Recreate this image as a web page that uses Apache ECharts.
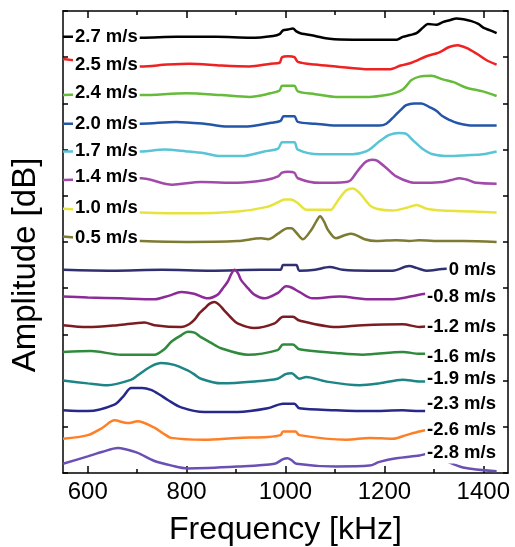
<!DOCTYPE html>
<html>
<head>
<meta charset="utf-8">
<script src="https://cdn.jsdelivr.net/npm/echarts@6/dist/echarts.min.js"></script>
<style>
  html, body { margin: 0; padding: 0; background: #fff; }
  #chart { width: 515px; height: 547px; }
</style>
</head>
<body>
<div id="chart"></div>
<script>
// tick labels (kHz)
const freqTicks = [600, 800, 1000, 1200, 1400];
const freqMinorTicks = [700, 900, 1100, 1300];

// flow speeds, top trace first
const speedLabels = ['2.7 m/s', '2.5 m/s', '2.4 m/s', '2.0 m/s', '1.7 m/s', '1.4 m/s', '1.0 m/s', '0.5 m/s',
  '0 m/s', '-0.8 m/s', '-1.2 m/s', '-1.6 m/s', '-1.9 m/s', '-2.3 m/s', '-2.6 m/s', '-2.8 m/s'];

// amplitude (dB, offset traces) vs frequency (kHz)
const amp_p27 = [[550,47.2],[600,47.2],[650,47.1],[708,47.1],[780,47.2],[860,47.2],[930,47.1],[975,47.3],[988,47.5],[995,47.9],[1005,48.0],[1015,48.1],[1022,47.8],[1030,47.6],[1060,47.3],[1089,47.0],[1136,46.9],[1225,46.9],[1237,47.2],[1252,47.4],[1265,47.6],[1278,48.2],[1288,48.6],[1305,48.5],[1318,48.8],[1332,49.0],[1346,49.2],[1360,49.1],[1376,48.9],[1390,48.6],[1400,48.2],[1414,47.9],[1427,47.6]];
const amp_p25 = [[550,44.8],[600,44.5],[650,44.2],[708,44.0],[760,44.2],[806,44.3],[870,44.1],[927,44.0],[970,44.3],[988,44.4],[993,45.0],[1005,45.1],[1018,45.0],[1025,44.5],[1060,44.2],[1102,44.0],[1170,43.7],[1210,43.7],[1233,44.1],[1255,44.4],[1285,45.1],[1310,45.5],[1331,46.1],[1348,46.3],[1366,46.0],[1386,45.4],[1406,44.7],[1427,44.2]];
const amp_p24 = [[550,40.9],[600,41.0],[650,41.0],[708,40.9],[800,41.1],[870,40.9],[927,40.7],[970,41.1],[988,41.4],[993,41.9],[1005,41.9],[1018,41.9],[1025,41.3],[1060,41.0],[1102,40.7],[1169,40.7],[1204,40.9],[1225,41.2],[1237,41.5],[1246,42.0],[1254,42.5],[1271,42.9],[1295,43.0],[1318,42.6],[1340,42.3],[1366,41.7],[1399,41.3],[1427,40.8]];
const amp_p20 = [[550,37.8],[620,37.8],[708,37.8],[779,38.0],[836,37.8],[883,37.5],[923,37.5],[971,37.9],[990,38.1],[996,38.6],[1008,38.6],[1018,38.6],[1025,38.0],[1060,37.8],[1102,37.6],[1190,37.6],[1204,37.8],[1220,38.6],[1233,39.3],[1244,39.8],[1260,40.0],[1275,40.0],[1291,39.6],[1305,39.2],[1318,38.6],[1332,38.2],[1346,37.9],[1379,37.6],[1427,37.6]];
const amp_p17 = [[550,34.8],[620,34.8],[708,34.8],[755,35.0],[800,34.8],[836,34.6],[868,34.3],[911,34.3],[957,34.8],[985,35.1],[993,35.8],[1005,35.8],[1018,35.8],[1025,35.0],[1069,34.5],[1136,34.5],[1163,34.8],[1177,35.3],[1190,35.9],[1210,36.6],[1230,36.8],[1244,36.7],[1258,36.0],[1277,35.1],[1298,34.5],[1332,34.3],[1366,34.4],[1399,34.5],[1427,34.8]];
const amp_p14 = [[550,31.7],[620,31.8],[708,31.9],[771,31.2],[829,31.5],[903,31.4],[960,31.7],[985,32.1],[993,32.5],[1005,32.6],[1018,32.5],[1025,31.9],[1069,31.4],[1123,31.5],[1132,31.7],[1142,32.4],[1152,33.1],[1163,33.7],[1175,33.9],[1185,33.8],[1204,33.0],[1224,32.1],[1251,31.5],[1271,31.4],[1318,31.5],[1335,31.7],[1352,31.9],[1370,31.7],[1386,31.4],[1427,31.3]];
const amp_p10 = [[550,28.6],[620,28.4],[708,28.2],[802,28.1],[903,28.3],[963,28.8],[985,29.3],[998,29.6],[1011,29.6],[1025,29.2],[1042,28.5],[1092,28.5],[1100,29.0],[1109,29.7],[1123,30.6],[1136,30.8],[1150,30.3],[1170,29.0],[1184,28.6],[1217,28.4],[1245,28.7],[1265,29.0],[1285,28.6],[1318,28.4],[1380,28.3],[1427,28.2]];
const amp_p05 = [[550,25.6],[620,25.3],[708,25.1],[802,25.0],[903,25.1],[951,25.4],[965,25.3],[985,25.9],[1004,26.5],[1012,26.5],[1022,26.0],[1035,25.3],[1052,26.3],[1062,27.2],[1070,27.8],[1078,27.2],[1086,26.3],[1102,25.4],[1118,25.7],[1133,25.9],[1160,25.3],[1184,25.1],[1224,25.2],[1250,25.1],[1270,25.2],[1300,25.1],[1360,25.1],[1427,25.0]];
const amp_0 = [[550,22.0],[650,21.9],[750,22.0],[850,21.9],[950,22.0],[990,22.0],[995,22.5],[1008,22.5],[1022,22.5],[1028,21.9],[1060,22.0],[1089,22.3],[1116,22.0],[1170,21.9],[1217,21.9],[1250,22.4],[1265,22.2],[1285,21.9],[1325,22.1],[1427,22.1]];
const amp_m08 = [[550,19.1],[600,19.0],[667,18.9],[735,18.8],[765,19.2],[789,19.6],[815,19.4],[843,18.9],[863,19.3],[872,19.9],[883,20.7],[890,21.5],[897,22.0],[904,21.6],[910,20.9],[924,20.0],[937,19.3],[958,18.9],[985,19.5],[1001,20.2],[1011,20.1],[1028,19.6],[1055,18.9],[1109,19.1],[1170,18.8],[1217,18.8],[1271,19.3],[1300,19.5],[1427,19.6]];
const amp_m12 = [[550,16.0],[600,15.8],[660,16.0],[715,16.3],[735,16.0],[789,15.8],[805,16.1],[816,16.6],[826,17.3],[836,17.8],[846,18.3],[856,18.5],[866,18.2],[876,17.6],[890,16.8],[903,16.2],[937,15.7],[978,16.2],[995,16.9],[1015,16.9],[1028,16.5],[1102,15.8],[1156,16.0],[1237,16.1],[1271,15.8],[1300,15.9],[1427,15.9]];
const amp_m16 = [[550,13.1],[607,13.2],[667,12.8],[735,12.8],[755,13.4],[769,14.2],[789,14.9],[802,15.3],[816,15.2],[829,14.7],[849,14.1],[870,13.5],[924,12.8],[984,13.3],[995,13.9],[1015,13.9],[1028,13.4],[1102,13.0],[1156,12.8],[1237,13.1],[1271,12.9],[1300,12.9],[1427,12.9]];
const amp_m19 = [[550,10.0],[600,9.7],[640,9.5],[688,10.1],[702,10.6],[715,11.1],[730,11.6],[748,11.9],[775,11.7],[802,11.1],[815,10.7],[829,10.2],[870,9.7],[937,9.9],[984,10.2],[1000,10.7],[1012,10.8],[1028,10.2],[1042,10.4],[1082,9.9],[1150,9.5],[1190,9.7],[1237,10.1],[1271,9.9],[1330,10.0],[1427,10.2]];
const amp_m23 = [[550,6.8],[600,6.7],[654,7.4],[672,8.3],[688,9.2],[710,9.2],[728,9.0],[745,8.5],[762,7.9],[789,7.1],[836,6.6],[903,6.6],[964,7.0],[995,7.5],[1018,7.5],[1028,7.0],[1102,6.8],[1170,6.7],[1237,6.8],[1271,6.7],[1330,6.9],[1400,7.3],[1427,7.6]];
const amp_m26 = [[550,3.7],[600,4.1],[630,4.9],[654,5.7],[681,5.4],[701,5.6],[735,4.9],[752,4.3],[769,3.8],[836,3.6],[903,3.8],[964,3.9],[990,4.1],[995,4.5],[1020,4.5],[1028,4.1],[1123,3.6],[1170,3.8],[1217,3.7],[1244,4.1],[1271,4.5],[1300,4.7],[1380,4.5],[1427,4.2]];
const amp_m28 = [[550,1.0],[600,1.8],[630,2.3],[661,2.7],[674,2.6],[700,2.2],[735,1.3],[770,0.8],[802,0.5],[903,0.7],[978,1.0],[995,1.5],[1004,1.6],[1012,1.4],[1022,1.0],[1102,0.7],[1170,0.8],[1190,1.2],[1224,1.6],[1271,1.9],[1290,2.1],[1320,1.4],[1359,0.6],[1427,0.2]];

const traces = [amp_p27, amp_p25, amp_p24, amp_p20, amp_p17, amp_p14, amp_p10, amp_p05,
  amp_0, amp_m08, amp_m12, amp_m16, amp_m19, amp_m23, amp_m26, amp_m28];

const colors = ['#000000', '#ee2222', '#66bb3a', '#2456a8', '#58c4d6', '#a24aaa', '#e6e43c', '#7d7a32',
  '#2f2f72', '#8c2a98', '#7b1c22', '#2f8a3c', '#1d8585', '#26288a', '#ff7f27', '#6a4fb5'];

// label placement (px): upper ones left-aligned, lower ones right-aligned
const labelY = [37, 65, 93, 124, 151, 177, 208, 238, 270, 297, 327, 357, 379, 404, 430, 453];

const FONT = '"Liberation Sans", Arial, sans-serif';

let chart = echarts.init(document.getElementById('chart'));

let series = traces.map((d, i) => ({
  name: speedLabels[i],
  type: 'line',
  data: d,
  showSymbol: false,
  smooth: 0.3,
  lineStyle: { color: colors[i], width: 2.5 },
  itemStyle: { color: colors[i] },
  z: 2
}));

let labels = speedLabels.map((t, i) => {
  let left = i < 8;
  return {
    type: 'text',
    x: left ? 73 : 498,
    y: labelY[i],
    z: 100,
    style: {
      text: t,
      font: 'bold 18.5px ' + FONT,
      fill: '#000',
      textAlign: left ? 'left' : 'right',
      textVerticalAlign: 'middle',
      backgroundColor: '#fff',
      padding: [1, 2, 1, 2]
    }
  };
});

labels.push({
  type: 'text',
  x: 26,
  y: 265,
  rotation: Math.PI / 2,
  z: 100,
  style: {
    text: 'Amplitude [dB]',
    font: '33px ' + FONT,
    fill: '#000',
    textAlign: 'center',
    textVerticalAlign: 'middle'
  }
});

const axisBase = {
  type: 'value',
  min: 550,
  max: 1450,
  splitLine: { show: false },
  axisLine: { show: true, lineStyle: { color: '#000', width: 1.5 } }
};

let option = {
  animation: false,
  backgroundColor: '#fff',
  grid: { left: 63, right: 7, top: 11, bottom: 74, outerBoundsMode: 'none', containLabel: false },
  xAxis: [
    Object.assign({}, axisBase, {
      position: 'bottom',
      name: 'Frequency [kHz]',
      nameLocation: 'middle',
      nameGap: 41,
      nameTextStyle: { fontSize: 32, fontFamily: FONT, color: '#000' },
      axisTick: { inside: true, length: 7, customValues: freqTicks, lineStyle: { color: '#000', width: 1.5 } },
      axisLabel: { customValues: freqTicks, fontSize: 24, fontFamily: FONT, color: '#000', margin: 7,
        formatter: v => String(v) }
    }),
    Object.assign({}, axisBase, {
      position: 'bottom',
      axisLine: { show: false },
      axisTick: { inside: true, length: 4, customValues: freqMinorTicks, lineStyle: { color: '#000', width: 1.5 } },
      axisLabel: { show: false }
    }),
    Object.assign({}, axisBase, {
      position: 'top',
      axisTick: { inside: true, length: 7, customValues: freqTicks, lineStyle: { color: '#000', width: 1.5 } },
      axisLabel: { show: false }
    }),
    Object.assign({}, axisBase, {
      position: 'top',
      axisLine: { show: false },
      axisTick: { inside: true, length: 4, customValues: freqMinorTicks, lineStyle: { color: '#000', width: 1.5 } },
      axisLabel: { show: false }
    })
  ],
  yAxis: [
    {
      type: 'value', position: 'left', min: 0, max: 50, interval: 5,
      splitLine: { show: false },
      axisLine: { show: true, lineStyle: { color: '#000', width: 1.5 } },
      axisTick: { inside: true, length: 5, lineStyle: { color: '#000', width: 1.5 } },
      axisLabel: { show: false }
    },
    {
      type: 'value', position: 'right', min: 0, max: 50, interval: 5,
      splitLine: { show: false },
      axisLine: { show: true, lineStyle: { color: '#000', width: 1.5 } },
      axisTick: { inside: true, length: 5, lineStyle: { color: '#000', width: 1.5 } },
      axisLabel: { show: false }
    }
  ],
  graphic: labels,
  series: series
};

chart.setOption(option);
</script>
</body>
</html>
